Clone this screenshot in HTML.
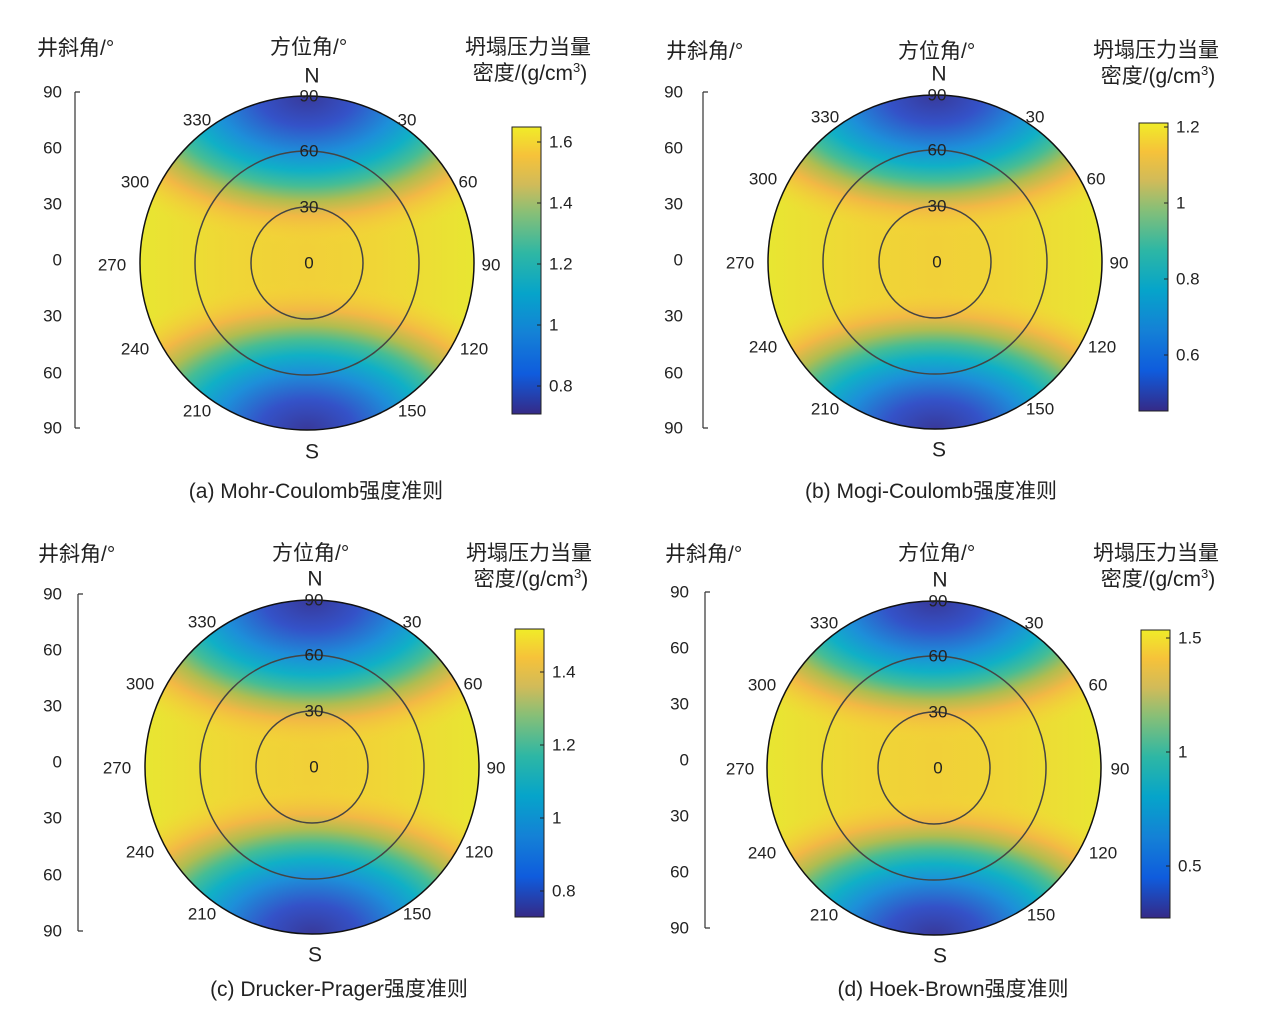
<!DOCTYPE html>
<html><head><meta charset="utf-8"><style>
html,body{margin:0;padding:0;background:#fff;overflow:hidden}
svg{display:block}
svg text{font-family:"Liberation Sans","Noto Sans CJK SC",sans-serif;fill:#222}
</style></head><body>
<svg width="1267" height="1013" viewBox="0 0 1267 1013" xmlns="http://www.w3.org/2000/svg">
<defs>
<linearGradient id="base" x1="0" x2="1" y1="0" y2="0">
<stop offset="0" stop-color="#e8e632"/><stop offset="0.3" stop-color="#f0d536"/><stop offset="0.5" stop-color="#f1d038"/><stop offset="0.7" stop-color="#f0d536"/><stop offset="1" stop-color="#e8e632"/>
</linearGradient>
<radialGradient id="cap">
<stop offset="0" stop-color="#38399a"/><stop offset="0.2" stop-color="#3452c8"/><stop offset="0.38" stop-color="#1d8fd9"/><stop offset="0.5" stop-color="#10b0c6"/><stop offset="0.6" stop-color="#45bd95"/><stop offset="0.7" stop-color="#b0bd50"/><stop offset="0.8" stop-color="#f2b845"/><stop offset="0.9" stop-color="#f4c83c" stop-opacity="0.5"/><stop offset="1" stop-color="#f2d935" stop-opacity="0"/>
</radialGradient>
<linearGradient id="cb" x1="0" x2="0" y1="1" y2="0">
<stop offset="0" stop-color="#352a87"/><stop offset="0.14" stop-color="#0f5cdd"/><stop offset="0.28" stop-color="#1481d6"/><stop offset="0.42" stop-color="#06a4ca"/><stop offset="0.56" stop-color="#2eb7a4"/><stop offset="0.7" stop-color="#87bf77"/><stop offset="0.8" stop-color="#d1bb59"/><stop offset="0.9" stop-color="#f6c23a"/><stop offset="1" stop-color="#f0ec28"/>
</linearGradient>
<clipPath id="c1"><circle cx="0" cy="0" r="167"/></clipPath>
</defs>

<g transform="translate(307,263)">
<g clip-path="url(#c1)">
<circle r="167" fill="url(#base)"/>
<ellipse cx="0" cy="-167" rx="240" ry="150" fill="url(#cap)"/>
<ellipse cx="0" cy="167" rx="240" ry="150" fill="url(#cap)"/>
</g>
<circle r="56" fill="none" stroke="#444" stroke-width="1.5"/>
<circle r="112" fill="none" stroke="#444" stroke-width="1.5"/>
<circle r="167" fill="none" stroke="#111" stroke-width="1.5"/>
<g font-size="17" text-anchor="middle" dominant-baseline="central">
<text x="2" y="0">0</text><text x="2" y="-56">30</text><text x="2" y="-112">60</text><text x="2" y="-167">90</text>
<text x="100" y="-143">30</text><text x="161" y="-81">60</text><text x="184" y="2">90</text><text x="167" y="86">120</text><text x="105" y="148">150</text>
<text x="-110" y="148">210</text><text x="-172" y="86">240</text><text x="-195" y="2">270</text><text x="-172" y="-81">300</text><text x="-110" y="-143">330</text>
<text x="5" y="-187" font-size="21">N</text><text x="5" y="189" font-size="21">S</text>
</g>
</g>

<g transform="translate(935,262)">
<g clip-path="url(#c1)">
<circle r="167" fill="url(#base)"/>
<ellipse cx="0" cy="-167" rx="240" ry="142" fill="url(#cap)"/>
<ellipse cx="0" cy="167" rx="240" ry="142" fill="url(#cap)"/>
</g>
<circle r="56" fill="none" stroke="#444" stroke-width="1.5"/>
<circle r="112" fill="none" stroke="#444" stroke-width="1.5"/>
<circle r="167" fill="none" stroke="#111" stroke-width="1.5"/>
<g font-size="17" text-anchor="middle" dominant-baseline="central">
<text x="2" y="0">0</text><text x="2" y="-56">30</text><text x="2" y="-112">60</text><text x="2" y="-167">90</text>
<text x="100" y="-145">30</text><text x="161" y="-83">60</text><text x="184" y="1">90</text><text x="167" y="85">120</text><text x="105" y="147">150</text>
<text x="-110" y="147">210</text><text x="-172" y="85">240</text><text x="-195" y="1">270</text><text x="-172" y="-83">300</text><text x="-110" y="-145">330</text>
<text x="4" y="-188" font-size="21">N</text><text x="4" y="188" font-size="21">S</text>
</g>
</g>

<g transform="translate(312,767)">
<g clip-path="url(#c1)">
<circle r="167" fill="url(#base)"/>
<ellipse cx="0" cy="-167" rx="240" ry="150" fill="url(#cap)"/>
<ellipse cx="0" cy="167" rx="240" ry="150" fill="url(#cap)"/>
</g>
<circle r="56" fill="none" stroke="#444" stroke-width="1.5"/>
<circle r="112" fill="none" stroke="#444" stroke-width="1.5"/>
<circle r="167" fill="none" stroke="#111" stroke-width="1.5"/>
<g font-size="17" text-anchor="middle" dominant-baseline="central">
<text x="2" y="0">0</text><text x="2" y="-56">30</text><text x="2" y="-112">60</text><text x="2" y="-167">90</text>
<text x="100" y="-145">30</text><text x="161" y="-83">60</text><text x="184" y="1">90</text><text x="167" y="85">120</text><text x="105" y="147">150</text>
<text x="-110" y="147">210</text><text x="-172" y="85">240</text><text x="-195" y="1">270</text><text x="-172" y="-83">300</text><text x="-110" y="-145">330</text>
<text x="3" y="-188" font-size="21">N</text><text x="3" y="188" font-size="21">S</text>
</g>
</g>

<g transform="translate(934,768)">
<g clip-path="url(#c1)">
<circle r="167" fill="url(#base)"/>
<ellipse cx="0" cy="-167" rx="240" ry="142" fill="url(#cap)"/>
<ellipse cx="0" cy="167" rx="240" ry="142" fill="url(#cap)"/>
</g>
<circle r="56" fill="none" stroke="#444" stroke-width="1.5"/>
<circle r="112" fill="none" stroke="#444" stroke-width="1.5"/>
<circle r="167" fill="none" stroke="#111" stroke-width="1.5"/>
<g font-size="17" text-anchor="middle" dominant-baseline="central">
<text x="4" y="0">0</text><text x="4" y="-56">30</text><text x="4" y="-112">60</text><text x="4" y="-167">90</text>
<text x="100" y="-145">30</text><text x="164" y="-83">60</text><text x="186" y="1">90</text><text x="169" y="85">120</text><text x="107" y="147">150</text>
<text x="-110" y="147">210</text><text x="-172" y="85">240</text><text x="-194" y="1">270</text><text x="-172" y="-83">300</text><text x="-110" y="-145">330</text>
<text x="6" y="-188" font-size="21">N</text><text x="6" y="188" font-size="21">S</text>
</g>
</g>

<g stroke="#333" stroke-width="1.2" fill="none">
<path d="M75 92V428M75 92h5M75 428h5"/>
<path d="M703 92V428M703 92h5M703 428h5"/>
<path d="M78 594V931M78 594h5M78 931h5"/>
<path d="M705 592V928M705 592h5M705 928h5"/>
</g>
<g font-size="17" text-anchor="end" dominant-baseline="central">
<text x="62" y="92">90</text><text x="62" y="148">60</text><text x="62" y="204">30</text><text x="62" y="260">0</text><text x="62" y="316">30</text><text x="62" y="373">60</text><text x="62" y="428">90</text>
<text x="683" y="92">90</text><text x="683" y="148">60</text><text x="683" y="204">30</text><text x="683" y="260">0</text><text x="683" y="316">30</text><text x="683" y="373">60</text><text x="683" y="428">90</text>
<text x="62" y="594">90</text><text x="62" y="650">60</text><text x="62" y="706">30</text><text x="62" y="762">0</text><text x="62" y="818">30</text><text x="62" y="875">60</text><text x="62" y="931">90</text>
<text x="689" y="592">90</text><text x="689" y="648">60</text><text x="689" y="704">30</text><text x="689" y="760">0</text><text x="689" y="816">30</text><text x="689" y="872">60</text><text x="689" y="928">90</text>
</g>

<g font-size="21">
<text x="37" y="55">井斜角/°</text><text x="270" y="54">方位角/°</text>
<text x="666" y="58">井斜角/°</text><text x="898" y="58">方位角/°</text>
<text x="38" y="561">井斜角/°</text><text x="272" y="560">方位角/°</text>
<text x="665" y="561">井斜角/°</text><text x="898" y="560">方位角/°</text>
</g>
<g font-size="21" text-anchor="middle">
<text x="528" y="54">坍塌压力当量</text><text x="530" y="80">密度/(g/cm<tspan font-size="13" dy="-8">3</tspan><tspan dy="8">)</tspan></text>
<text x="1156" y="57">坍塌压力当量</text><text x="1158" y="83">密度/(g/cm<tspan font-size="13" dy="-8">3</tspan><tspan dy="8">)</tspan></text>
<text x="529" y="560">坍塌压力当量</text><text x="531" y="586">密度/(g/cm<tspan font-size="13" dy="-8">3</tspan><tspan dy="8">)</tspan></text>
<text x="1156" y="560">坍塌压力当量</text><text x="1158" y="586">密度/(g/cm<tspan font-size="13" dy="-8">3</tspan><tspan dy="8">)</tspan></text>
</g>
<g font-size="21" text-anchor="middle">
<text x="316" y="498">(a) Mohr-Coulomb强度准则</text>
<text x="931" y="498">(b) Mogi-Coulomb强度准则</text>
<text x="339" y="996">(c) Drucker-Prager强度准则</text>
<text x="953" y="996">(d) Hoek-Brown强度准则</text>
</g>

<g stroke="#222" stroke-width="1">
<rect x="512" y="127" width="29" height="287" fill="url(#cb)"/>
<rect x="1139" y="123" width="29" height="288" fill="url(#cb)"/>
<rect x="515" y="629" width="29" height="288" fill="url(#cb)"/>
<rect x="1141" y="630" width="29" height="288" fill="url(#cb)"/>
<path d="M537 142h4M537 203h4M537 264h4M537 325h4M537 386h4"/>
<path d="M1164 127h4M1164 203h4M1164 279h4M1164 355h4"/>
<path d="M540 672h4M540 745h4M540 818h4M540 891h4"/>
<path d="M1166 638h4M1166 752h4M1166 866h4"/>
</g>
<g font-size="17" dominant-baseline="central">
<text x="549" y="142">1.6</text><text x="549" y="203">1.4</text><text x="549" y="264">1.2</text><text x="549" y="325">1</text><text x="549" y="386">0.8</text>
<text x="1176" y="127">1.2</text><text x="1176" y="203">1</text><text x="1176" y="279">0.8</text><text x="1176" y="355">0.6</text>
<text x="552" y="672">1.4</text><text x="552" y="745">1.2</text><text x="552" y="818">1</text><text x="552" y="891">0.8</text>
<text x="1178" y="638">1.5</text><text x="1178" y="752">1</text><text x="1178" y="866">0.5</text>
</g>
</svg>
</body></html>
